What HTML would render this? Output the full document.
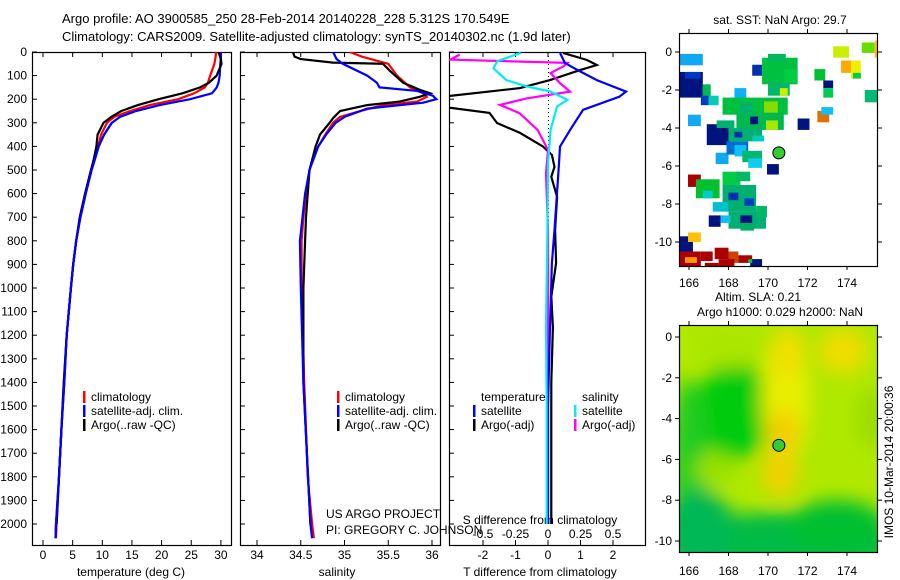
<!DOCTYPE html>
<html><head><meta charset="utf-8">
<style>
html,body{margin:0;padding:0;background:#fff;}
svg{display:block;font-family:"Liberation Sans",sans-serif;}
</style></head>
<body>
<svg id="fig" width="900" height="580" viewBox="0 0 900 580" xmlns="http://www.w3.org/2000/svg">
<defs>
<filter id="blur" x="-50%" y="-50%" width="200%" height="200%"><feGaussianBlur stdDeviation="9"/></filter>
<clipPath id="clipSla"><rect x="679" y="325" width="199" height="227"/></clipPath>
<clipPath id="clipSst"><rect x="679" y="33" width="199" height="233"/></clipPath>
<clipPath id="clipP1"><rect x="32" y="52" width="199" height="493"/></clipPath>
<clipPath id="clipP2"><rect x="240" y="52" width="200" height="493"/></clipPath>
<clipPath id="clipP3"><rect x="449" y="52" width="196" height="493"/></clipPath>
</defs>
<g font-size="13" fill="#000">
<text x="62" y="23">Argo profile: AO 3900585_250 28-Feb-2014 20140228_228 5.312S 170.549E</text>
<text x="62" y="41">Climatology: CARS2009. Satellite-adjusted climatology: synTS_20140302.nc (1.9d later)</text>
</g>
<g id="plots"></g>
</svg>
<script>
// ---------- DATA ----------
const tempDepth = [0,20,50,100,130,150,175,200,225,250,275,300,350,400,450,500,600,700,800,900,1000,1200,1400,1600,1800,2000,2060];
const tempClim  = [29.2,29.1,28.9,28.2,27.8,27.3,25.5,22.8,18,14.7,12,10.8,9.8,9.3,8.7,8.1,7.1,6.2,5.6,5.1,4.7,4.0,3.5,3.1,2.7,2.3,2.2];
const tempSat   = [30.0,30.0,29.9,29.8,29.6,29.3,28.5,24.8,19.7,15.7,13,11.6,10.3,9.4,8.8,8.2,7.2,6.3,5.6,5.1,4.7,4.0,3.6,3.1,2.7,2.2,2.1];
const argoTDepth = [0,30,50,100,130,150,175,200,225,250,275,300,350,400,450,500,600,700,800,900,1000,1200,1400,1600,1800,2000];
const argoTemp   = [29.6,30.0,30.1,29.3,28.0,26.5,23.5,19.5,16,13.2,11.5,10.2,9.2,9.0,8.6,8.1,7.1,6.2,5.6,5.1,4.7,4.0,3.5,3.1,2.7,2.3];

const salDepth = [0,20,50,100,150,175,190,210,225,250,275,300,350,400,450,500,600,700,800,1000,1400,1600,1800,2000,2060];
const salClim  = [35.06,35.2,35.5,35.6,35.75,35.9,35.94,35.83,35.44,35.18,34.95,34.87,34.78,34.70,34.64,34.6,34.56,34.53,34.51,34.51,34.54,34.56,34.58,34.63,34.65];
const satSalDepth = [0,30,50,100,130,150,165,185,200,215,240,275,300,350,400,500,600,800,1000,1400,2000,2060];
const salSat      = [34.87,34.91,34.98,35.26,35.37,35.4,35.83,36.01,36.05,35.9,35.26,35.0,34.9,34.79,34.7,34.6,34.55,34.49,34.5,34.53,34.61,34.63];
const argoSDepth = [0,20,30,45,50,80,100,130,160,175,190,210,225,250,280,300,350,400,500,700,800,1000,1400,2000];
const argoSal    = [34.41,34.43,34.5,34.87,35.44,35.52,35.58,35.67,35.86,35.98,35.86,35.63,35.26,34.95,34.87,34.83,34.72,34.67,34.6,34.56,34.55,34.53,34.53,34.61];

const dTArgoDepth = [4,34,55,76,119,153,189,233,258,301,343,401,436,487,529,614,754,894,1037,1165,1400,1700,2000];
const dTArgo      = [0.46,1.2,1.5,1.0,0.06,-0.86,-3.2,-3.2,-1.8,-1.57,-0.86,-0.15,0.12,0.2,0.1,0.28,0.22,0.25,0.1,0.15,0.1,0.1,0.1];
const dTSatDepth = [4,46,76,119,168,189,245,330,401,472,754,894,1165,1500,2000];
const dTSat      = [0.37,0.52,0.9,1.5,2.4,2.2,1.08,0.68,0.37,0.34,0.2,0.12,0.06,0.0,0.0];
const dSSatDepth = [4,39,69,119,146,168,203,231,330,472,754,1165,1500,2000];
const dSSat      = [-0.21,-0.39,-0.42,-0.32,-0.16,0.02,0.15,0.07,0.02,0.0,-0.005,-0.015,-0.01,-0.01];
const dSArgoDepth = [11,32,46,60,89,131,168,196,224,259,330,415,514,754,1165,1500,2000];
const dSArgo      = [-0.68,-0.75,0.15,0.12,0.02,0.09,0.17,-0.16,-0.37,-0.22,-0.08,0.0,-0.015,0.0,0.0,0.0,0.0];

const depthTicks = [0,100,200,300,400,500,600,700,800,900,1000,1100,1200,1300,1400,1500,1600,1700,1800,1900,2000];
const tempTicks = [0,5,10,15,20,25,30];
const salTicks = [34,34.5,35,35.5,36];
const salTickLabels = ["34","34.5","35","35.5","36"];
const dTTicks = [-2,-1,0,1,2];
const dSTicks = [-0.5,-0.25,0,0.25,0.5];
const dSTickLabels = ["-0.5","-0.25","0","0.25","0.5"];
const lonTicks = [166,168,170,172,174];
const latTicks = [0,-2,-4,-6,-8,-10];

// SST cells: lon0, lat0(top), lon1, lat1(bottom), colour
const sstCells = [
[165.5,-0.1,166.7,-0.7,"#10a8f0"],[165.5,-1.05,166.7,-2.4,"#00147f"],[165.8,-1.05,166.6,-1.4,"#0038c0"],
[166.7,-1.7,167.1,-2.4,"#00b850"],[166.6,-2.3,167.0,-2.8,"#0040c0"],[167.0,-2.3,167.5,-2.8,"#00ccbb"],
[165.95,-3.3,166.6,-3.9,"#10a8f8"],[169.2,-0.67,169.7,-1.25,"#0033aa"],[169.7,-0.3,171.5,-1.7,"#00c040"],
[170.0,-0.1,170.9,-0.5,"#00b860"],[170.8,-0.9,171.5,-1.6,"#00cc44"],[170.0,-1.6,171.1,-2.3,"#00b868"],
[170.6,-1.9,171.0,-2.3,"#ccee00"],[168.3,-1.9,168.9,-2.5,"#10b0f8"],[167.7,-2.4,171.0,-3.3,"#00c040"],
[168.6,-2.7,169.2,-3.3,"#00b070"],[169.8,-2.6,170.5,-3.2,"#88dd00"],[168.4,-3.2,170.8,-4.1,"#00b850"],
[169.1,-3.4,169.5,-3.8,"#00137f"],[169.9,-3.6,170.5,-4.1,"#aae800"],[171.5,-3.5,172.1,-4.1,"#00137f"],
[172.5,-3.1,173.1,-3.7,"#e07000"],[172.7,-2.9,173.3,-3.3,"#10c0f0"],[172.35,-0.9,172.9,-1.5,"#00c030"],
[172.8,-1.5,173.3,-1.9,"#00137f"],[172.8,-1.9,173.3,-2.4,"#00cc55"],[173.3,0.3,174.1,-0.3,"#ccee00"],
[174.75,0.5,175.4,-0.05,"#66dd00"],[175.4,0.6,175.7,-0.3,"#ffc000"],[173.7,-0.45,174.3,-1.1,"#ffaa00"],
[174.2,-0.45,174.7,-1.4,"#f0ee00"],[174.3,-1.1,174.7,-1.4,"#00cc44"],[174.9,-2.0,175.6,-2.65,"#00bb77"],
[166.9,-3.8,168.1,-4.9,"#00137f"],[167.4,-3.6,168.3,-4.0,"#00b070"],[168.0,-4.0,169.7,-4.7,"#00b070"],
[168.3,-4.2,168.7,-4.5,"#0030b0"],[169.2,-4.4,169.8,-4.7,"#00ccbb"],[167.35,-5.3,168.0,-5.9,"#10a8f0"],
[167.9,-4.7,169.0,-5.4,"#0070d0"],[168.3,-4.9,168.9,-5.5,"#10c0f8"],[168.7,-5.2,169.7,-5.8,"#00b870"],
[169.0,-5.6,169.7,-6.1,"#10ccee"],[169.95,-5.9,170.55,-6.45,"#00137f"],[165.95,-6.45,166.6,-7.1,"#aa0000"],
[166.35,-6.7,167.55,-7.7,"#00c030"],[166.7,-7.3,167.2,-7.7,"#00cccc"],[167.7,-6.3,168.6,-7.0,"#00cc44"],
[168.4,-6.3,169.1,-6.8,"#00b868"],[167.7,-7.0,169.4,-8.4,"#00b070"],[168.0,-7.4,168.5,-7.8,"#0030b0"],
[168.8,-7.7,169.3,-8.1,"#0040c0"],[167.2,-7.9,168.0,-8.4,"#00c0d0"],[168.0,-8.4,169.9,-9.3,"#00b070"],
[168.6,-8.6,169.2,-9.0,"#00137f"],[169.4,-8.1,169.95,-8.7,"#00b868"],[167.0,-8.6,167.6,-9.2,"#00137f"],
[167.6,-8.6,168.1,-9.0,"#10c0f0"],[168.6,-9.0,169.3,-9.4,"#00b060"],
[165.5,-9.7,166.2,-10.5,"#00137f"],[165.95,-9.5,166.6,-10.0,"#ffc000"],[165.5,-10.5,166.6,-11.3,"#aa0000"],
[165.8,-10.8,166.4,-11.1,"#ff9900"],[166.6,-10.5,167.2,-11.0,"#aa0000"],[167.3,-10.3,168.0,-10.9,"#aa0000"],
[168.0,-10.5,168.5,-11.1,"#cc4400"],[166.8,-11.1,167.5,-11.3,"#aa0000"],[167.5,-10.9,168.3,-11.3,"#aa0000"],
[168.5,-10.7,169.2,-11.1,"#aa0000"],[169.1,-10.9,169.7,-11.3,"#00137f"],[169.0,-10.9,169.2,-11.1,"#00cc33"]
];
// SLA blobs: lon, lat, rx(deg), ry(deg), colour
const slaBlobs = [
[168.3,-3.6,1.9,2.4,"#00cc11"],[166,-6,0.9,4,"#22cc22"],[170.5,-10.2,6,1.6,"#00bb44"],
[166.5,-9.5,1.8,2.0,"#00b855"],[173.5,-9.3,2.5,1.3,"#00bf33"],[170.9,-3.0,1.2,3.2,"#e8ee00"],
[170.8,-4.6,0.8,1.0,"#f5cc00"],[170.6,-6.6,0.9,1.2,"#f2d000"],[171.0,-0.8,0.9,1.2,"#f0e000"],
[173.8,-0.7,1.2,1.1,"#f0dd00"],[175.2,-4,0.7,1.5,"#99dd00"],[168,-0.5,2,1,"#aae600"],[167.3,-6.5,1,0.8,"#99e000"]
];

// ---------- helpers ----------
const NS="http://www.w3.org/2000/svg";
const root=document.getElementById('plots');
function mk(tag,attrs,parent){const e=document.createElementNS(NS,tag);for(const k in attrs)e.setAttribute(k,attrs[k]);(parent||root).appendChild(e);return e;}
function txt(s,x,y,anchor,parent,size){const t=mk('text',{x:x,y:y,'text-anchor':anchor||'start','font-size':size||12},parent);t.textContent=s;return t;}
const yD=d=>52+d*0.236;
const xT=t=>43+t*5.93;
const xS=s=>257+(s-34)*87.5;
const xDT=v=>548+v*32.5;
const xDS=v=>548+v*130;

function line(xs,ds,fx,color,clip,name){
  const pts=xs.map((v,i)=>fx(v).toFixed(1)+','+yD(ds[i]).toFixed(1)).join(' ');
  const p=mk('polyline',{points:pts,fill:'none',stroke:color,'stroke-width':2.2,'clip-path':'url(#'+clip+')'});
  
  
}
function panel(x0,x1,name){
  const g=mk('g',{});
  
  
  mk('rect',{x:x0+0.5,y:52.5,width:x1-x0,height:493,fill:'none',stroke:'#000','stroke-width':1.2},g);
  return g;
}
function xTicks(g,vals,labels,fx,ly){
  vals.forEach((v,i)=>{const x=fx(v);
    mk('line',{x1:x,x2:x,y1:545,y2:540,stroke:'#000'},g);
    mk('line',{x1:x,x2:x,y1:52,y2:57,stroke:'#000'},g);
    const t=txt(labels[i],x,ly,'middle',g);
    
    
  });
}
function legendBar(g,x,y,color){mk('rect',{x:x,y:y-10,width:2.5,height:12,fill:color},g);}

// ---------- Panel 1 temperature ----------
const g1=panel(32,231,'temperature-panel');
depthTicks.forEach(d=>{const y=yD(d);
  mk('line',{x1:32,x2:37,y1:y,y2:y,stroke:'#000'},g1);
  const t=txt(String(d),27,y+4,'end',g1);
  
  
});
xTicks(g1,tempTicks,tempTicks.map(String),xT,559);
const xt1=txt('temperature (deg C)',131,576,'middle',g1);


line(tempClim,tempDepth,xT,'#ff0000','clipP1','temp-climatology-line');
line(tempSat,tempDepth,xT,'#0000ff','clipP1','temp-satellite-line');
line(argoTemp,argoTDepth,xT,'#000000','clipP1','temp-argo-line');
line(tempSat.slice(11),tempDepth.slice(11),xT,'#0000ff','clipP1','temp-satellite-line-deep');
[['climatology','#f00'],['satellite-adj. clim.','#00f'],['Argo(..raw -QC)','#000']].forEach((e,i)=>{
  legendBar(g1,83,401+i*14,e[1]);const t=txt(e[0],91,401+i*14,'start',g1);
  
  
});

// ---------- Panel 2 salinity ----------
const g2=panel(240,440,'salinity-panel');
depthTicks.forEach(d=>{const y=yD(d);mk('line',{x1:240,x2:245,y1:y,y2:y,stroke:'#000'},g2);});
xTicks(g2,salTicks,salTickLabels,xS,559);
const xt2=txt('salinity',337,576,'middle',g2);


line(salClim,salDepth,xS,'#ff0000','clipP2','sal-climatology-line');
line(argoSal,argoSDepth,xS,'#000000','clipP2','sal-argo-line');
line(salSat,satSalDepth,xS,'#0000ff','clipP2','sal-satellite-line');
[['climatology','#f00'],['satellite-adj. clim.','#00f'],['Argo(..raw -QC)','#000']].forEach((e,i)=>{
  legendBar(g2,337,401+i*14,e[1]);const t=txt(e[0],345,401+i*14,'start',g2);
  
  
});
const c1=txt('US ARGO PROJECT',326,518,'start',g2);


const c2=txt('PI: GREGORY C. JOHNSON',326,534,'start',g2);



// ---------- Panel 3 differences ----------
const g3=panel(449,645,'difference-panel');
depthTicks.forEach(d=>{const y=yD(d);mk('line',{x1:449,x2:454,y1:y,y2:y,stroke:'#000'},g3);});
xTicks(g3,dTTicks,dTTicks.map(String),xDT,559);
dSTicks.forEach((v,i)=>{const t=txt(dSTickLabels[i],xDS(v),538,'middle',g3);
  
  });
const sd=txt('S difference from climatology',540,524,'middle',g3);


const td=txt('T difference from climatology',540,576,'middle',g3);


mk('line',{x1:548.5,x2:548.5,y1:52,y2:235,stroke:'#000','stroke-dasharray':'1,3'},g3);
line(dTArgo,dTArgoDepth,xDT,'#000000','clipP3','t-diff-argo-line');
line(dSArgo,dSArgoDepth,xDS,'#ff00ff','clipP3','s-diff-argo-line');
line(dTSat,dTSatDepth,xDT,'#0000ff','clipP3','t-diff-satellite-line');
line(dSSat,dSSatDepth,xDS,'#00eeee','clipP3','s-diff-satellite-line');
const lt=txt('temperature',481,401,'start',g3);
const ls=txt('salinity',582,401,'start',g3);
[['satellite','#00f',473,481],['Argo(-adj)','#000',473,481],['satellite','#0ee',574,582],['Argo(-adj)','#f0f',574,582]].forEach((e,i)=>{
  const y=415+(i%2)*14;legendBar(g3,e[2],y,e[1]);const t=txt(e[0],e[3],y,'start',g3);
  
  
});

// ---------- Maps ----------
const xL=l=>689+(l-166)*19.75;
function mapFrame(y0,h,latY,name,tickLabelY){
  const g=mk('g',{});
  
  
  mk('rect',{x:679.5,y:y0+0.5,width:198,height:h,fill:'none',stroke:'#000','stroke-width':1.2},g);
  lonTicks.forEach(l=>{const x=xL(l);
    mk('line',{x1:x,x2:x,y1:y0,y2:y0-4,stroke:'#000'},g);
    mk('line',{x1:x,x2:x,y1:y0+h,y2:y0+h+4,stroke:'#000'},g);
    const t=txt(String(l),x,tickLabelY,'middle',g);
    
    
  });
  latTicks.forEach(l=>{const y=latY(l);
    mk('line',{x1:679,x2:675,y1:y,y2:y,stroke:'#000'},g);
    mk('line',{x1:878,x2:882,y1:y,y2:y,stroke:'#000'},g);
    const t=txt(String(l).replace('-','-'),672,y+4,'end',g);
    
    
  });
  return g;
}
// SST map
const yA=l=>52-l*19;
const sstG=mk('g',{'clip-path':'url(#clipSst)'});


sstCells.forEach(c=>{const r=mk('rect',{x:xL(c[0]),y:yA(c[1]),width:xL(c[2])-xL(c[0]),height:yA(c[3])-yA(c[1]),fill:c[4]},sstG);
  
  });
mapFrame(33,233,yA,'sst-map',287);
const sm=mk('circle',{cx:xL(170.55),cy:yA(-5.31),r:6,fill:'#33cc33',stroke:'#000','stroke-width':1});


const st=txt('sat. SST: NaN Argo: 29.7',780,24,'middle');



// SLA map
const yB=l=>337-l*20.4;
const slaG=mk('g',{'clip-path':'url(#clipSla)'});


mk('rect',{x:679,y:325,width:199,height:227,fill:'#b0e800'},slaG);
const bl=mk('g',{filter:'url(#blur)'},slaG);
slaBlobs.forEach(b=>{const e=mk('ellipse',{cx:xL(b[0]),cy:yB(b[1]),rx:b[2]*19.75,ry:b[3]*20.4,fill:b[4]},bl);
  
  });
mapFrame(325,227,yB,'sla-map',575);
const sm2=mk('circle',{cx:xL(170.55),cy:yB(-5.31),r:6,fill:'#33cc33',stroke:'#000','stroke-width':1});


const a1=txt('Altim. SLA: 0.21',758,301,'middle');


const a2=txt('Argo h1000: 0.029 h2000: NaN',780,316,'middle');


const im=txt('IMOS 10-Mar-2014 20:00:36',0,0,'middle');
im.setAttribute('transform','translate(893,462) rotate(-90)');


</script>
</body></html>
